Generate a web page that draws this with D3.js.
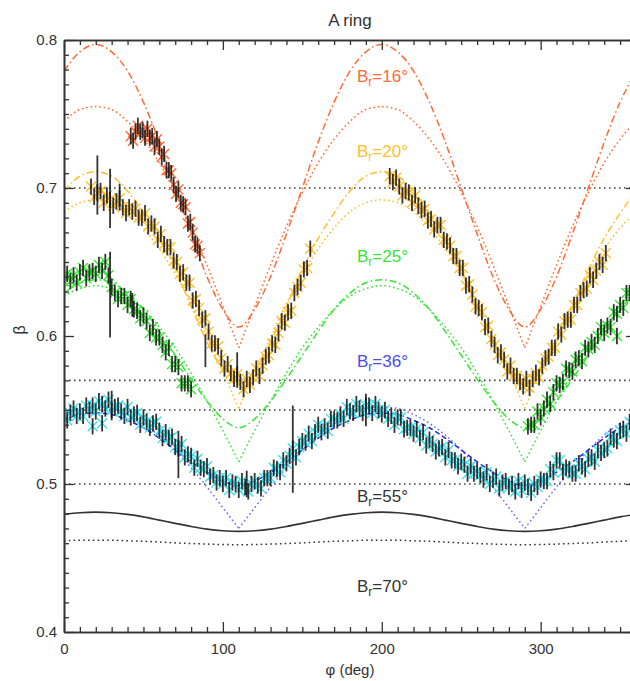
<!DOCTYPE html>
<html>
<head>
<meta charset="utf-8">
<script src="https://cdn.jsdelivr.net/npm/d3@7"></script>
<style>
  body { margin: 0; background: #fff; }
  text { font-family: "Liberation Sans", Arial, sans-serif; }
</style>
</head>
<body>
<svg id="chart" width="630" height="681"></svg>
<script>
// ---------- model curves (phi every 10 deg) ----------
const modelPhi = [0,10,20,30,40,50,60,70,80,90,100,110,120,130,140,150,160,170,180,190,200,210,220,230,240,250,260,270,280,290,300,310,320,330,340,350,360];
const vPhi = [110, 290]; // where the dotted curves have their sharp minima

const b16DashDot = [.779,.792,.797,.792,.779,.758,.731,.700,.669,.640,.618,.606,.618,.640,.669,.700,.731,.758,.779,.792,.797,.792,.779,.758,.731,.700,.669,.640,.618,.606,.618,.640,.669,.700,.731,.758,.779];
const b16Dotted  = [.745,.753,.755,.753,.745,.733,.717,.697,.674,.648,.620,.592,.620,.648,.674,.697,.717,.733,.745,.753,.755,.753,.745,.733,.717,.697,.674,.648,.620,.592,.620,.648,.674,.697,.717,.733,.745];
const b20DashDot = [.698,.708,.711,.708,.698,.683,.666,.645,.620,.596,.577,.567,.577,.596,.620,.645,.666,.683,.698,.708,.711,.708,.698,.683,.666,.645,.620,.596,.577,.567,.577,.596,.620,.645,.666,.683,.698];
const b20Dotted  = [.684,.690,.692,.690,.684,.673,.659,.642,.622,.599,.576,.551,.576,.599,.622,.642,.659,.673,.684,.690,.692,.690,.684,.673,.659,.642,.622,.599,.576,.551,.576,.599,.622,.642,.659,.673,.684];
const b25DashDot = [.629,.636,.638,.636,.629,.618,.603,.587,.571,.556,.544,.538,.544,.556,.571,.587,.603,.618,.629,.636,.638,.636,.629,.618,.603,.587,.571,.556,.544,.538,.544,.556,.571,.587,.603,.618,.629];
const b25Dotted  = [.627,.632,.634,.632,.627,.618,.606,.592,.575,.556,.536,.515,.536,.556,.575,.592,.606,.618,.627,.632,.634,.632,.627,.618,.606,.592,.575,.556,.536,.515,.536,.556,.575,.592,.606,.618,.627];
const b36Dashed  = [.543,.547,.548,.547,.543,.538,.531,.523,.515,.508,.502,.499,.502,.508,.515,.523,.531,.538,.543,.547,.548,.547,.543,.538,.531,.523,.515,.508,.502,.499,.502,.508,.515,.523,.531,.538,.543];
const b36Dotted  = [.547,.551,.552,.551,.547,.541,.533,.523,.511,.498,.484,.470,.484,.498,.511,.523,.533,.541,.547,.551,.552,.551,.547,.541,.533,.523,.511,.498,.484,.470,.484,.498,.511,.523,.533,.541,.547];
const b55Solid   = [.4795,.4806,.481,.4806,.4795,.4778,.4756,.4734,.4713,.4695,.4684,.468,.4684,.4695,.4713,.4734,.4756,.4778,.4795,.4806,.481,.4806,.4795,.4778,.4756,.4734,.4713,.4695,.4684,.468,.4684,.4695,.4713,.4734,.4756,.4778,.4795];
const b55Dotted  = [.4616,.462,.462,.462,.4616,.4613,.4608,.4602,.4598,.4594,.4591,.459,.4591,.4594,.4598,.4602,.4608,.4613,.4616,.462,.462,.462,.4616,.4613,.4608,.4602,.4598,.4594,.4591,.459,.4591,.4594,.4598,.4602,.4608,.4613,.4616];

// horizontal reference levels
const refLevels = [0.7, 0.57, 0.55, 0.5];

// ---------- measurements (start phi, step, beta values) ----------
const orangeStart = 42, orangeStep = 1.5;
const orangeBeta = [.735,.732,.738,.742,.738,.739,.734,.740,.734,.735,.728,.733,.728,.721,.723,.712,.712,.710,.702,.696,.699,.690,.689,.687,.676,.677,.670,.662,.661,.656];

const yellowAStart = 17, yellowAStep = 2;
const yellowABeta = [.701,.694,.697,.698,.690,.695,.692,.688,.691,.693,.687,.683,.687,.684,.686,.680,.680,.683,.674,.676,
  .674,.665,.669,.662,.660,.660,.651,.650,.642,.643,.636,.636,.624,.625,.619,.611,.612,.603,.595,.595,
  .593,.585,.578,.581,.575,.571,.574,.569,.564,.571,.567,.572,.578,.573,.580,.586,.587,.595,.594,.602,
  .610,.609,.616,.617,.629,.633,.636,.645,.646,.659];

const yellowBStart = 205, yellowBStep = 2;
const yellowBBeta = [.708,.704,.707,.701,.695,.698,.697,.690,.695,.688,.685,.686,.678,.679,.672,.675,.675,.665,.664,.661,
  .654,.654,.646,.646,.634,.635,.628,.620,.619,.616,.606,.607,.598,.594,.587,.589,.584,.576,.580,.573,
  .573,.569,.566,.571,.565,.571,.575,.572,.580,.585,.586,.592,.592,.603,.601,.610,.611,.611,.621,.621,
  .629,.631,.632,.641,.638,.644,.650,.648,.656];

const greenAStart = 0, greenAStep = 2;
const greenABeta = [.637,.642,.637,.641,.636,.643,.646,.639,.643,.644,.642,.648,.644,.650,.641,
  .633,.629,.625,.627,.627,.621,.625,.618,.617,.612,.614,.610,.602,.606,.599,.599,.594,.589,.592,.581,.581,.579,.568,.568,.568,.564];

const greenBStart = 292, greenBStep = 2;
const greenBBeta = [.539,.540,.540,.549,.545,.551,.557,.554,.562,.568,.567,.569,.578,.577,.576,.584,.585,.583,.592,.591,
  .596,.594,.600,.606,.602,.607,.606,.616,.615,.621,.619,.629,.629,.629,.637];

const cyanStart = 0, cyanStep = 2;
const cyanBeta = [.547,.543,.548,.551,.546,.549,.546,.553,.550,.553,.549,.556,.554,.551,.557,.550,.552,.553,.549,.546,
  .552,.545,.547,.548,.540,.545,.542,.538,.541,.542,.536,.531,.535,.531,.532,.525,.524,.527,.518,.520,
  .519,.511,.517,.511,.510,.512,.505,.506,.501,.504,.500,.504,.496,.501,.500,.496,.502,.498,.495,.500,
  .502,.499,.497,.504,.504,.504,.511,.510,.508,.516,.514,.519,.524,.518,.525,.529,.528,.534,.529,.535,
  .540,.535,.539,.536,.544,.544,.543,.547,.544,.552,.549,.548,.554,.551,.548,.553,.553,.548,.554,.550,
  .547,.550,.544,.546,.540,.545,.545,.537,.538,.538,.534,.537,.531,.535,.526,.530,.527,.522,.524,.525,
  .518,.523,.516,.516,.512,.515,.513,.507,.512,.507,.509,.506,.503,.508,.500,.503,.505,.497,.501,.502,
  .498,.500,.495,.502,.496,.501,.498,.494,.500,.498,.503,.502,.502,.510,.508,.516,.516,.508,.511,.510,
  .507,.507,.514,.512,.510,.517,.518,.515,.523,.521,.523,.524,.532,.530,.529,.536,.537,.534,.542,.540,.544];

const typicalErr = 0.0055;

// long error bars: [phi, beta, half-length]
const cyanLong   = [[30,.553,.010],[72,.520,.016],[115,.500,.009],[144,.5235,.0295],[190,.550,.011]];
const yellowLong = [[21,.702,.020],[29,.693,.020],[35,.694,.009],[89,.590,.011],[109,.577,.012]];
const greenLong  = [[29,.628,.029],[43,.621,.008]];

// stray points: [phi, beta]
const cyanStray  = [[18,.539],[24,.541]];
const greenStray = [[348,.600]];

// curve labels: ring opening angle and text anchor [phi, beta]
const labelDeg = [16, 20, 25, 36, 55, 70];
const labelAt  = [[184.4,.7716],[184.4,.7209],[184.4,.650],[184.4,.579],[184.4,.4878],[184.4,.427]];

// ---------- drawing ----------
const col = {
  orange: "#ff6a35", yellow: "#ffbf2a", green: "#35e635",
  blue: "#4b4bf0", blueDot: "#6a6aff", blueDash: "#2525dd",
  cyan: "#38e2f0", ink: "#333333"
};
const labelColors = [col.orange, col.yellow, col.green, col.blue, col.ink, col.ink];

const svg = d3.select("#chart");
const x = d3.scaleLinear().domain([0, 360]).range([64, 636]);
const y = d3.scaleLinear().domain([0.4, 0.8]).range([632, 40]);

svg.append("defs").append("clipPath").attr("id", "plotClip")
  .append("rect").attr("x", x(0)).attr("y", y(0.8))
  .attr("width", x(360) - x(0)).attr("height", y(0.4) - y(0.8));

const plot = svg.append("g").attr("clip-path", "url(#plotClip)");

// reference levels
plot.selectAll("line.ref").data(refLevels).join("line")
  .attr("class", "ref")
  .attr("x1", x(0)).attr("x2", x(360))
  .attr("y1", d => y(d)).attr("y2", d => y(d))
  .attr("stroke", "#444").attr("stroke-width", 1.6)
  .attr("stroke-dasharray", "1.6,3.4");

// model curves
const smooth = d3.line().x(d => x(d[0])).y(d => y(d[1])).curve(d3.curveMonotoneX);
const asPoints = vals => modelPhi.map((p, i) => [p, vals[i]]);
function splitAtV(pts) {
  const segs = [[]];
  pts.forEach(p => {
    segs[segs.length - 1].push(p);
    if (vPhi.includes(p[0])) segs.push([p]);
  });
  return segs.filter(s => s.length > 1);
}

const dashDot = "7,3,1.6,3";
const dotted = "1.6,2.8";
const models = [
  { vals: b55Dotted,  color: col.ink,      dash: "1.6,3.2", v: false, w: 1.5 },
  { vals: b55Solid,   color: col.ink,      dash: null,      v: false, w: 1.6 },
  { vals: b36Dotted,  color: col.blueDot,  dash: dotted,    v: true,  w: 1.5 },
  { vals: b36Dashed,  color: col.blueDash, dash: "5,3",     v: false, w: 1.5 },
  { vals: b25Dotted,  color: col.green,    dash: dotted,    v: true,  w: 1.5 },
  { vals: b25DashDot, color: col.green,    dash: dashDot,   v: false, w: 1.5 },
  { vals: b20Dotted,  color: col.yellow,   dash: dotted,    v: true,  w: 1.5 },
  { vals: b20DashDot, color: col.yellow,   dash: dashDot,   v: false, w: 1.5 },
  { vals: b16Dotted,  color: col.orange,   dash: dotted,    v: true,  w: 1.5 },
  { vals: b16DashDot, color: col.orange,   dash: dashDot,   v: false, w: 1.5 }
];
models.forEach(m => {
  const pts = asPoints(m.vals);
  const segs = m.v ? splitAtV(pts) : [pts];
  segs.forEach(s => {
    plot.append("path").attr("d", smooth(s))
      .attr("fill", "none").attr("stroke", m.color).attr("stroke-width", m.w)
      .attr("stroke-dasharray", m.dash);
  });
});

// measurements: coloured crosses under black error bars
const series = (start, step, vals) => vals.map((b, i) => [start + i * step, b]);
const xMark = (p, s) => {
  const cx = x(p[0]), cy = y(p[1]);
  return `M${cx - s},${cy - s}L${cx + s},${cy + s}M${cx - s},${cy + s}L${cx + s},${cy - s}`;
};

function drawSeries(pts, longBars, stray, color) {
  const g = plot.append("g");
  const all = pts.concat(stray);
  g.append("path")
    .attr("d", all.map(p => xMark(p, 5)).join(""))
    .attr("fill", "none").attr("stroke", color).attr("stroke-width", 1.4);
  const bars = all.map(p => [p[0], p[1], typicalErr]).concat(longBars);
  g.selectAll("line").data(bars).join("line")
    .attr("x1", d => x(d[0])).attr("x2", d => x(d[0]))
    .attr("y1", d => y(d[1] - d[2])).attr("y2", d => y(d[1] + d[2]))
    .attr("stroke", "#111").attr("stroke-width", 1.8).attr("stroke-opacity", 0.85);
}

drawSeries(series(cyanStart, cyanStep, cyanBeta), cyanLong, cyanStray, col.cyan);
drawSeries(series(greenAStart, greenAStep, greenABeta), greenLong, [], col.green);
drawSeries(series(greenBStart, greenBStep, greenBBeta), [], greenStray, col.green);
drawSeries(series(yellowAStart, yellowAStep, yellowABeta), yellowLong, [], col.yellow);
drawSeries(series(yellowBStart, yellowBStep, yellowBBeta), [], [], col.yellow);
drawSeries(series(orangeStart, orangeStep, orangeBeta), [], [], col.orange);

// curve labels
labelDeg.forEach((deg, i) => {
  const t = svg.append("text")
    .attr("x", x(labelAt[i][0])).attr("y", y(labelAt[i][1]))
    .attr("fill", labelColors[i]).attr("font-size", 17);
  t.append("tspan").text("B");
  t.append("tspan").attr("font-size", 12).attr("dy", 4).text("r");
  t.append("tspan").attr("dy", -4).text("=" + deg + "°");
});

// ---------- axes ----------
const xMajor = [0, 100, 200, 300];
const xMinor = d3.range(0, 361, 10).filter(v => !xMajor.includes(v));
const yMajor = [0.4, 0.5, 0.6, 0.7, 0.8];
const yMinor = d3.range(40, 81).map(v => v / 100).filter(v => !yMajor.some(m => Math.abs(m - v) < 1e-9));

function styleAxis(g) {
  g.select(".domain").attr("stroke", col.ink).attr("stroke-width", 1.6);
  g.selectAll(".tick line").attr("stroke", col.ink).attr("stroke-width", 1.3);
  g.selectAll("text").attr("fill", col.ink).attr("font-size", 15)
    .attr("font-family", "'Liberation Sans', Arial, sans-serif");
}

const axisB = svg.append("g").attr("transform", `translate(0,${y(0.4)})`);
axisB.call(d3.axisBottom(x).tickValues(xMajor).tickSizeInner(-10).tickSizeOuter(0).tickPadding(11).tickFormat(d3.format("d"))).call(styleAxis);
axisB.append("g").call(d3.axisBottom(x).tickValues(xMinor).tickSizeInner(-5).tickSizeOuter(0).tickFormat("")).call(styleAxis);

const axisT = svg.append("g").attr("transform", `translate(0,${y(0.8)})`);
axisT.call(d3.axisTop(x).tickValues(xMajor).tickSizeInner(-10).tickSizeOuter(0).tickFormat("")).call(styleAxis);
axisT.append("g").call(d3.axisTop(x).tickValues(xMinor).tickSizeInner(-5).tickSizeOuter(0).tickFormat("")).call(styleAxis);

const axisL = svg.append("g").attr("transform", `translate(${x(0)},0)`);
axisL.call(d3.axisLeft(y).tickValues(yMajor).tickSizeInner(-10).tickSizeOuter(0).tickPadding(7).tickFormat(d3.format(".1f"))).call(styleAxis);
axisL.append("g").call(d3.axisLeft(y).tickValues(yMinor).tickSizeInner(-5).tickSizeOuter(0).tickFormat("")).call(styleAxis);

const axisR = svg.append("g").attr("transform", `translate(${x(360)},0)`);
axisR.call(d3.axisRight(y).tickValues(yMajor).tickSizeInner(-10).tickSizeOuter(0).tickFormat("")).call(styleAxis);
axisR.append("g").call(d3.axisRight(y).tickValues(yMinor).tickSizeInner(-5).tickSizeOuter(0).tickFormat("")).call(styleAxis);

// titles
svg.append("text").attr("x", (x(0) + x(360)) / 2).attr("y", 26)
  .attr("text-anchor", "middle").attr("font-size", 17).attr("fill", col.ink).text("A ring");
svg.append("text").attr("x", (x(0) + x(360)) / 2).attr("y", 675)
  .attr("text-anchor", "middle").attr("font-size", 15).attr("fill", col.ink).text("φ (deg)");
svg.append("text").attr("transform", `translate(25,${y(0.6) - 6}) rotate(-90)`)
  .attr("text-anchor", "middle").attr("font-size", 16).attr("fill", col.ink).text("β");
</script>
</body>
</html>
